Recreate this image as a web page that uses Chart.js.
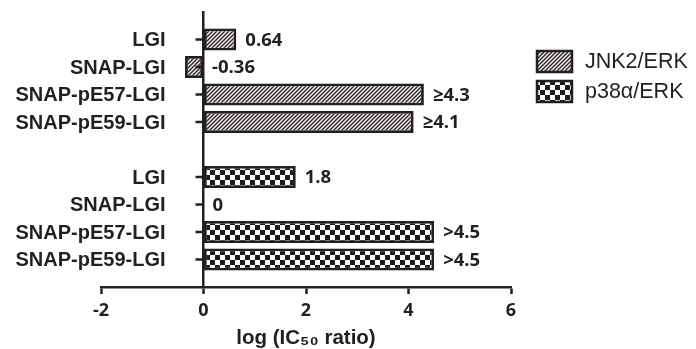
<!DOCTYPE html>
<html><head><meta charset="utf-8">
<script src="https://cdn.jsdelivr.net/npm/chart.js@4/dist/chart.umd.min.js"></script>
<style>html,body{margin:0;padding:0;background:#fff}</style>
</head><body>
<canvas id="c" width="696" height="349" style="width:696px;height:349px;display:block"></canvas>
<script>
// ---- data ----
const compounds = ['LGI', 'SNAP-LGI', 'SNAP-pE57-LGI', 'SNAP-pE59-LGI'];
const seriesNames = ['JNK2/ERK', 'p38\u03B1/ERK'];
const jnkValues = [0.64, -0.36, 4.3, 4.1];
const jnkLabels = ['0.64', '-0.36', '\u22654.3', '\u22654.1'];
const p38Values = [1.8, 0, 4.5, 4.5];
const p38Labels = ['1.8', '0', '>4.5', '>4.5'];
const xTicks = [-2, 0, 2, 4, 6];
const xTitle = 'log (IC\u2085\u2080 ratio)';

// ---- build table (blank rows pad the ends and separate the groups) ----
const blank = [null];
const categories = [''].concat(compounds, [''], compounds, ['']);
const none = compounds.map(() => null);
const jnkData = blank.concat(jnkValues, blank, none, blank);
const p38Data = blank.concat(none, blank, p38Values, blank);
const jnkText = blank.concat(jnkLabels, blank, none, blank);
const p38Text = blank.concat(none, blank, p38Labels, blank);

const INK = '#231f20';
const canvas = document.getElementById('c');
const ctx = canvas.getContext('2d');

function hatchPattern() {
  const s = 4, t = document.createElement('canvas');
  t.width = t.height = s;
  const g = t.getContext('2d');
  g.fillStyle = '#f3f0ee'; g.fillRect(0, 0, s, s);
  g.strokeStyle = '#2b2726'; g.lineWidth = 1.4;
  g.beginPath();
  g.moveTo(-1, s + 1); g.lineTo(s + 1, -1);
  g.moveTo(-1, 1); g.lineTo(1, -1);
  g.moveTo(s - 1, s + 1); g.lineTo(s + 1, s - 1);
  g.stroke();
  return ctx.createPattern(t, 'repeat');
}
function checkerPattern() {
  const c = 5, t = document.createElement('canvas');
  t.width = t.height = 2 * c;
  const g = t.getContext('2d');
  g.fillStyle = '#ffffff'; g.fillRect(0, 0, 2 * c, 2 * c);
  g.fillStyle = '#1e1a1b';
  g.fillRect(0, 0, c, c); g.fillRect(c, c, c, c);
  return ctx.createPattern(t, 'repeat');
}
const fills = [hatchPattern(), checkerPattern()];
const valueTexts = [jnkText, p38Text];

// category names and their tick marks, left of the y axis (which sits at x = 0)
const categoryLabelPlugin = {
  id: 'categoryLabels',
  afterDraw(chart) {
    const ys = chart.scales.y, xs = chart.scales.x;
    const c = chart.ctx;
    const axisX = xs.getPixelForValue(0);
    c.save();
    c.font = 'bold 20px "Liberation Sans"';
    c.fillStyle = INK;
    c.strokeStyle = INK;
    c.lineWidth = 2.5;
    c.textAlign = 'right';
    c.textBaseline = 'middle';
    ys.ticks.forEach((t, i) => {
      const lab = ys.getLabelForValue(t.value);
      if (!lab) return;
      const y = ys.getPixelForTick(i);
      c.beginPath();
      c.moveTo(axisX - 1, y);
      c.lineTo(axisX - 8, y);
      c.stroke();
      c.fillText(lab, axisX - 38, y + 1);
    });
    c.restore();
  }
};

const valueLabelPlugin = {
  id: 'valueLabels',
  afterDatasetsDraw(chart) {
    const c = chart.ctx;
    c.save();
    c.font = 'bold 18.5px "Open Sans"';
    c.fillStyle = INK;
    c.textAlign = 'left';
    c.textBaseline = 'middle';
    chart.data.datasets.forEach((ds, di) => {
      const meta = chart.getDatasetMeta(di);
      meta.data.forEach((bar, i) => {
        const txt = valueTexts[di][i];
        if (txt == null) return;
        const right = Math.max(bar.x, bar.base);
        c.fillText(txt, right + 9, bar.y + 1);
      });
    });
    c.restore();
  }
};

const legendPlugin = {
  id: 'sideLegend',
  afterDraw(chart) {
    const c = chart.ctx;
    c.save();
    chart.data.datasets.forEach((ds, i) => {
      const x = 537, y = 51 + i * 30, w = 35, h = 21;
      c.fillStyle = ds.backgroundColor;
      c.fillRect(x, y, w, h);
      c.lineWidth = 2.5; c.strokeStyle = INK;
      c.strokeRect(x, y, w, h);
      c.fillStyle = INK;
      c.font = '21.5px "Liberation Sans"';
      c.textAlign = 'left'; c.textBaseline = 'middle';
      c.fillText(ds.label, 585, y + h / 2 + 1);
    });
    c.restore();
  }
};

new Chart(ctx, {
  type: 'bar',
  data: {
    labels: categories,
    datasets: [
      { label: seriesNames[0], data: jnkData, backgroundColor: fills[0] },
      { label: seriesNames[1], data: p38Data, backgroundColor: fills[1] }
    ]
  },
  options: {
    indexAxis: 'y',
    responsive: false,
    animation: false,
    devicePixelRatio: 1,
    layout: { padding: { left: 101, right: 185, top: 12, bottom: 0.4 } },
    datasets: {
      bar: {
        grouped: false,
        categoryPercentage: 1,
        barPercentage: 0.8,
        borderColor: INK,
        borderWidth: 2.8,
        borderSkipped: false
      }
    },
    plugins: { legend: { display: false }, tooltip: { enabled: false } },
    scales: {
      x: {
        type: 'linear',
        min: xTicks[0],
        max: xTicks[xTicks.length - 1],
        afterBuildTicks: s => { s.ticks = xTicks.map(v => ({ value: v })); },
        grid: { drawOnChartArea: false, drawTicks: true, tickLength: 7, tickWidth: 2.5, tickColor: INK },
        border: { display: true, color: INK, width: 2.5 },
        ticks: { color: INK, font: { family: '"Open Sans"', size: 18, weight: 'bold' }, padding: 6 },
        title: { display: true, text: xTitle, color: INK, font: { family: '"Liberation Sans"', size: 20.5, weight: 'bold', lineHeight: 1 }, padding: { top: 0.5, bottom: 0 } }
      },
      y: {
        type: 'category',
        position: { x: 0 },
        offset: false,
        afterFit: s => { s.width = 0; },
        grid: { offset: false, drawOnChartArea: false, drawTicks: false },
        border: { display: true, color: INK, width: 2.5 },
        ticks: { autoSkip: false, display: false, padding: 0 }
      }
    }
  },
  plugins: [categoryLabelPlugin, valueLabelPlugin, legendPlugin]
});
</script>
</body></html>
